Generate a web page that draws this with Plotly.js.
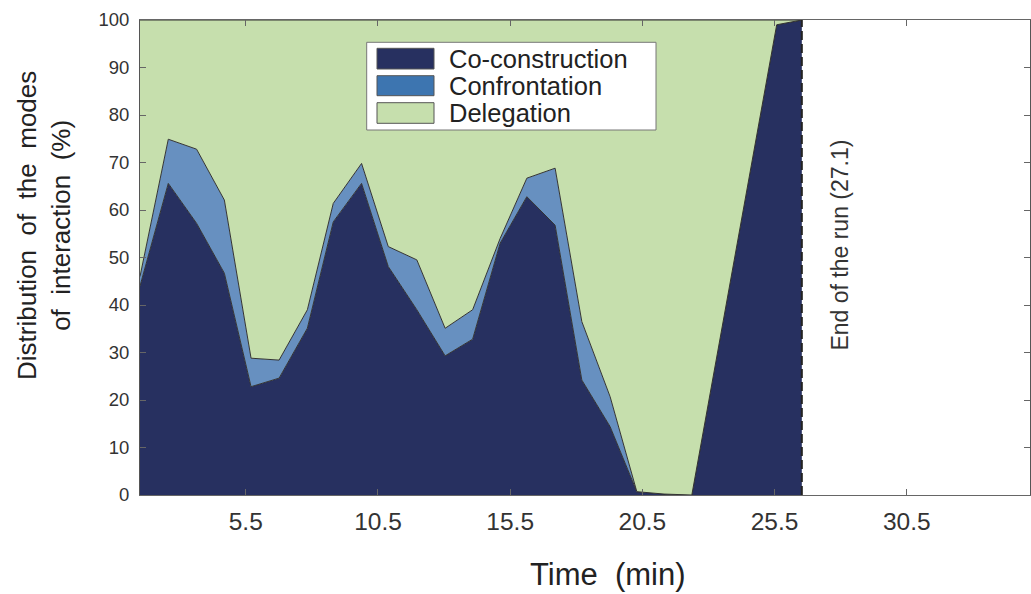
<!DOCTYPE html>
<html>
<head>
<meta charset="utf-8">
<script src="https://cdn.plot.ly/plotly-3.0.1.min.js"></script>
<style>html,body{margin:0;padding:0;background:#fff;}#chart{width:1031px;height:594px;}</style>
</head>
<body>
<div id="chart"></div>
<script>
// Time (min) of each sample
const time = [1.5, 2.57, 3.64, 4.69, 5.70, 6.76, 7.83, 8.81, 9.88, 10.89, 11.97, 13.04, 14.08, 15.12, 16.13, 17.20, 18.21, 19.28, 20.29, 21.32, 22.37, 25.58, 26.53];
// Distribution of the modes of interaction (%)
const coConstruction = [44, 65.6, 57.2, 46.7, 22.8, 24.6, 35.1, 57.5, 65.6, 48.1, 39, 29.3, 32.8, 53, 62.8, 56.8, 24.2, 14.4, 0.7, 0.2, 0, 99, 100];
const confrontation  = [2, 9.3, 15.6, 15.4, 6, 3.8, 3.9, 3.9, 4.2, 4.2, 10.5, 5.8, 6.2, 1, 3.9, 12, 12.3, 6.3, 0, 0, 0, 0, 0];
const delegation     = [54, 25.1, 27.2, 37.9, 71.2, 71.6, 61, 38.6, 30.2, 47.7, 50.5, 64.9, 61, 46, 33.3, 31.2, 63.5, 79.3, 99.3, 99.8, 100, 1, 0];
const seriesNames = ["Co-construction", "Confrontation", "Delegation"];
const xTickVals = [5.5, 10.5, 15.5, 20.5, 25.5, 30.5];
const xTickText = ["5.5", "10.5", "15.5", "20.5", "25.5", "30.5"];
const yTickVals = [0, 10, 20, 30, 40, 50, 60, 70, 80, 90, 100];
const endLabel = "End of the run (27.1)";

const areaColors = ["#273060", "#6790c0", "#c6dfad"];
const legendColors = ["#273060", "#3d75b0", "#c6dfad"];
const seriesValues = [coConstruction, confrontation, delegation];

const traces = seriesValues.map((vals, i) => ({
  type: "scatter",
  mode: "lines",
  x: time,
  y: vals,
  name: seriesNames[i],
  stackgroup: "modes",
  fillcolor: areaColors[i],
  line: {color: "#333", width: 1},
  hoverinfo: "skip",
  showlegend: false
}));

const runEnd = time[time.length - 1];

// plot-area pixel helpers for the hand-drawn legend
const L = 140, R = 1030, T = 20, B = 495;
const px = v => (v - L) / (R - L);
const py = v => (B - v) / (B - T);

const shapes = [
  {type: "line", xref: "x", yref: "y", x0: runEnd, x1: runEnd, y0: 0, y1: 100,
   line: {color: "#222", width: 2, dash: "9px,4px"}},
  {type: "rect", xref: "paper", yref: "paper", x0: px(366.7), x1: px(656), y0: py(130), y1: py(42.3),
   fillcolor: "#fff", line: {color: "#777", width: 1}}
];
const rowTop = [48.3, 75.7, 102.7], rowBot = [69, 95.7, 123.3], rowMid = [58.5, 85.5, 112.5];
const annotations = [];
for (let i = 0; i < 3; i++) {
  shapes.push({type: "rect", xref: "paper", yref: "paper", x0: px(377), x1: px(434),
    y0: py(rowBot[i]), y1: py(rowTop[i]), fillcolor: legendColors[i], line: {color: "#555", width: 1}});
  annotations.push({xref: "paper", yref: "paper", x: px(447), y: py(rowMid[i]), xanchor: "left", yanchor: "middle",
    text: seriesNames[i], showarrow: false, font: {family: "Liberation Sans, Arial, sans-serif", size: 25.5, color: "#222"}});
}
annotations.push({xref: "x", yref: "y", x: 27.97, y: 52.7, text: endLabel, textangle: -90, showarrow: false,
  font: {family: "Liberation Sans, Arial, sans-serif", size: 23, color: "#333"}});
annotations.push({xref: "paper", yref: "paper", x: px(608), y: py(574), xanchor: "center", yanchor: "middle",
  text: "Time  (min)", showarrow: false, font: {family: "Liberation Sans, Arial, sans-serif", size: 31, color: "#222"}});
annotations.push({xref: "paper", yref: "paper", x: px(44), y: py(226), xanchor: "center", yanchor: "middle",
  text: "Distribution  of  the  modes<br>of  interaction  (%)", textangle: -90, showarrow: false,
  font: {family: "Liberation Sans, Arial, sans-serif", size: 26, color: "#222"}});

const layout = {
  width: 1031, height: 594,
  margin: {l: 140, r: 1, t: 20, b: 99, pad: 0},
  paper_bgcolor: "#fff", plot_bgcolor: "#fff",
  showlegend: false,
  xaxis: {
    range: [1.5, 35.16], tickvals: xTickVals, ticktext: xTickText,
    ticks: "inside", ticklen: 6, tickcolor: "#666", showgrid: false, zeroline: false,
    showline: true, linecolor: "#666", linewidth: 1, mirror: "ticks",
    tickfont: {family: "Liberation Sans, Arial, sans-serif", size: 24.5, color: "#333"},
    ticklabelstandoff: 5
  },
  yaxis: {
    range: [0, 100], tickvals: yTickVals,
    ticks: "inside", ticklen: 6, tickcolor: "#666", showgrid: false, zeroline: false,
    showline: true, linecolor: "#555", linewidth: 1, mirror: "ticks",
    tickfont: {family: "Liberation Sans, Arial, sans-serif", size: 18.5, color: "#333"},
    ticklabelstandoff: 6
  },
  shapes: shapes,
  annotations: annotations
};

Plotly.newPlot("chart", traces, layout, {displayModeBar: false, staticPlot: true});
</script>
</body>
</html>
